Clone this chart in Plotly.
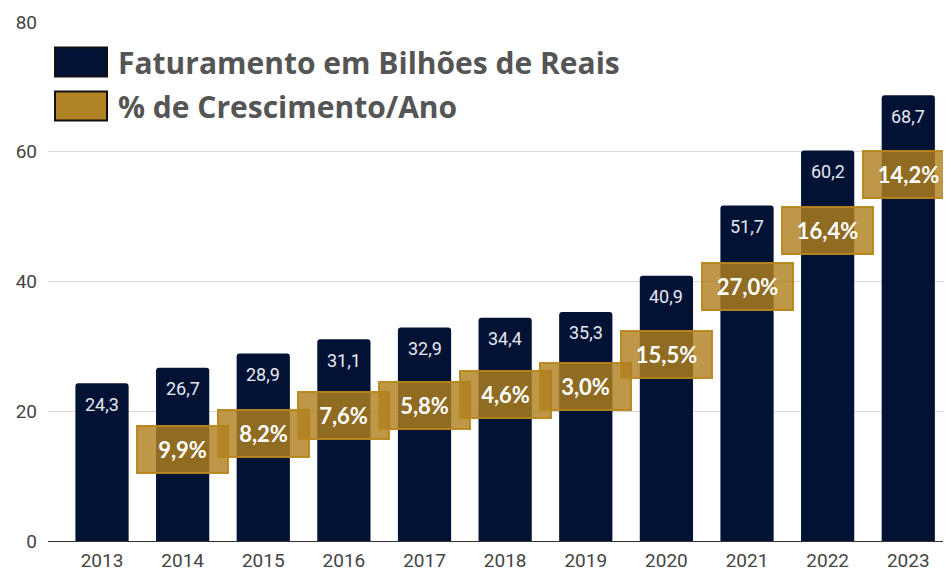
import plotly.graph_objects as go

years = ["2013", "2014", "2015", "2016", "2017", "2018", "2019", "2020", "2021", "2022", "2023"]
revenue = [24.3, 26.7, 28.9, 31.1, 32.9, 34.4, 35.3, 40.9, 51.7, 60.2, 68.7]
growth_years = ["2014", "2015", "2016", "2017", "2018", "2019", "2020", "2021", "2022", "2023"]
growth_pct = ["9,9%", "8,2%", "7,6%", "5,8%", "4,6%", "3,0%", "15,5%", "27,0%", "16,4%", "14,2%"]
growth_label_y = [14.1, 16.5, 19.3, 20.9, 22.6, 23.8, 28.7, 39.2, 47.8, 56.5]
series_names = ["Faturamento em Bilhões de Reais", "% de Crescimento/Ano"]

NAVY = "#011235"
GOLD = "#B08326"

# the page body has an 8px margin; compensate so the picture lands where intended
OFF = 8
L, T = 48 - OFF, 22 - OFF

fig = go.Figure()
fig.add_trace(go.Bar(
    x=years, y=revenue, name=series_names[0],
    marker=dict(color=NAVY, cornerradius=3, line=dict(width=0)),
    showlegend=False, hoverinfo="x+y",
))

annotations = []
for i, v in enumerate(revenue):
    annotations.append(dict(
        x=i, y=v, xref="x", yref="y", text=f"{v:.1f}".replace(".", ","),
        showarrow=False, xanchor="center", yanchor="middle", yshift=-21,
        font=dict(family="Roboto", size=18, color="#E6E8F0"),
    ))
for gy, yv, t in zip(growth_years, growth_label_y, growth_pct):
    annotations.append(dict(
        x=years.index(gy), y=yv, xref="x", yref="y", text=f"<b>{t}</b>",
        showarrow=False, xanchor="center", yanchor="middle",
        width=89, height=45, borderpad=0, borderwidth=2,
        bgcolor="rgba(176,128,32,0.82)", bordercolor="rgba(184,134,30,0.95)",
        font=dict(family="Lato", size=22, color="white"),
    ))

legend_colors = [NAVY, GOLD]
legend_y = [62, 106]
shapes = []
for name, col, ly in zip(series_names, legend_colors, legend_y):
    shapes.append(dict(
        type="rect", xref="paper", yref="paper", xsizemode="pixel", ysizemode="pixel",
        xanchor=0, yanchor=1, x0=55 - 48, x1=107 - 48, y0=-(ly - 22) - 14.5, y1=-(ly - 22) + 14.5,
        fillcolor=col, line=dict(color="#111111", width=2),
    ))
    annotations.append(dict(
        xref="paper", yref="paper", x=0, y=1, xshift=116 - 48, yshift=-(ly - 22),
        xanchor="left", yanchor="middle", showarrow=False,
        text=f"<b>{name}</b>",
        font=dict(family="Open Sans", size=30, color="#555555"),
    ))

fig.update_layout(
    width=951 - OFF, height=573 - OFF,
    margin=dict(l=L, r=0, t=T, b=32, autoexpand=False),
    plot_bgcolor="white", paper_bgcolor="white",
    bargap=0.34,
    annotations=annotations, shapes=shapes,
    showlegend=False,
    font=dict(family="Roboto", size=19, color="#444444"),
)
fig.update_xaxes(
    type="category",
    range=[-0.67, 10.53], showgrid=False, showline=False, ticks="",
    tickfont=dict(family="Roboto", size=19, color="#444444"),
    ticklabelstandoff=6,
)
fig.update_yaxes(
    range=[0, 80], tickvals=[0, 20, 40, 60, 80], showgrid=True,
    gridcolor="#D9D9D9", gridwidth=1, zeroline=True, zerolinecolor="#333333", zerolinewidth=1,
    tickfont=dict(family="Roboto", size=19, color="#444444"),
    ticklabelstandoff=10, showline=False,
)

fig.write_html("out.html")
